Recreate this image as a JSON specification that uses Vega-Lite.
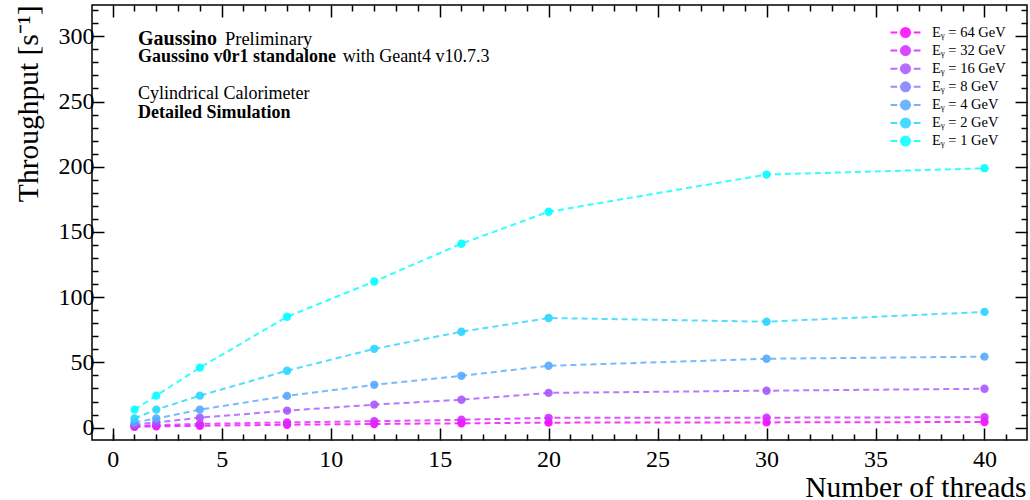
{
  "$schema": "https://vega.github.io/schema/vega-lite/v6.json",
  "width": 935,
  "height": 435,
  "autosize": {"type": "none"},
  "padding": {"left": 92, "top": 5, "right": 3, "bottom": 60},
  "background": "white",
  "config": {
    "font": "Liberation Serif",
    "view": {"stroke": "black", "strokeWidth": 1.5},
    "axis": {"grid": false, "domain": false, "tickColor": "black", "tickWidth": 1.5, "labelColor": "black", "titleColor": "black"}
  },
  "data": {"values": [
    {"threads": 1, "rate": 0.6, "E": "Eᵧ = 64 GeV"},
    {"threads": 2, "rate": 1.0, "E": "Eᵧ = 64 GeV"},
    {"threads": 4, "rate": 1.4, "E": "Eᵧ = 64 GeV"},
    {"threads": 8, "rate": 2.2, "E": "Eᵧ = 64 GeV"},
    {"threads": 12, "rate": 2.8, "E": "Eᵧ = 64 GeV"},
    {"threads": 16, "rate": 3.3, "E": "Eᵧ = 64 GeV"},
    {"threads": 20, "rate": 3.8, "E": "Eᵧ = 64 GeV"},
    {"threads": 30, "rate": 4.0, "E": "Eᵧ = 64 GeV"},
    {"threads": 40, "rate": 4.3, "E": "Eᵧ = 64 GeV"},
    {"threads": 1, "rate": 1.2, "E": "Eᵧ = 32 GeV"},
    {"threads": 2, "rate": 1.9, "E": "Eᵧ = 32 GeV"},
    {"threads": 4, "rate": 2.8, "E": "Eᵧ = 32 GeV"},
    {"threads": 8, "rate": 4.0, "E": "Eᵧ = 32 GeV"},
    {"threads": 12, "rate": 4.9, "E": "Eᵧ = 32 GeV"},
    {"threads": 16, "rate": 6.0, "E": "Eᵧ = 32 GeV"},
    {"threads": 20, "rate": 7.5, "E": "Eᵧ = 32 GeV"},
    {"threads": 30, "rate": 7.6, "E": "Eᵧ = 32 GeV"},
    {"threads": 40, "rate": 8.0, "E": "Eᵧ = 32 GeV"},
    {"threads": 1, "rate": 2.3, "E": "Eᵧ = 16 GeV"},
    {"threads": 2, "rate": 4.0, "E": "Eᵧ = 16 GeV"},
    {"threads": 4, "rate": 7.6, "E": "Eᵧ = 16 GeV"},
    {"threads": 8, "rate": 13.0, "E": "Eᵧ = 16 GeV"},
    {"threads": 12, "rate": 17.6, "E": "Eᵧ = 16 GeV"},
    {"threads": 16, "rate": 21.4, "E": "Eᵧ = 16 GeV"},
    {"threads": 20, "rate": 26.6, "E": "Eᵧ = 16 GeV"},
    {"threads": 30, "rate": 28.3, "E": "Eᵧ = 16 GeV"},
    {"threads": 40, "rate": 29.8, "E": "Eᵧ = 16 GeV"},
    {"threads": 1, "rate": 4.0, "E": "Eᵧ = 4 GeV"},
    {"threads": 2, "rate": 7.0, "E": "Eᵧ = 4 GeV"},
    {"threads": 4, "rate": 13.8, "E": "Eᵧ = 4 GeV"},
    {"threads": 8, "rate": 24.3, "E": "Eᵧ = 4 GeV"},
    {"threads": 12, "rate": 32.8, "E": "Eᵧ = 4 GeV"},
    {"threads": 16, "rate": 39.7, "E": "Eᵧ = 4 GeV"},
    {"threads": 20, "rate": 47.4, "E": "Eᵧ = 4 GeV"},
    {"threads": 30, "rate": 52.8, "E": "Eᵧ = 4 GeV"},
    {"threads": 40, "rate": 54.4, "E": "Eᵧ = 4 GeV"},
    {"threads": 1, "rate": 7.0, "E": "Eᵧ = 2 GeV"},
    {"threads": 2, "rate": 13.8, "E": "Eᵧ = 2 GeV"},
    {"threads": 4, "rate": 24.5, "E": "Eᵧ = 2 GeV"},
    {"threads": 8, "rate": 43.6, "E": "Eᵧ = 2 GeV"},
    {"threads": 12, "rate": 60.4, "E": "Eᵧ = 2 GeV"},
    {"threads": 16, "rate": 73.5, "E": "Eᵧ = 2 GeV"},
    {"threads": 20, "rate": 84.0, "E": "Eᵧ = 2 GeV"},
    {"threads": 30, "rate": 81.2, "E": "Eᵧ = 2 GeV"},
    {"threads": 40, "rate": 88.7, "E": "Eᵧ = 2 GeV"},
    {"threads": 1, "rate": 13.8, "E": "Eᵧ = 1 GeV"},
    {"threads": 2, "rate": 24.5, "E": "Eᵧ = 1 GeV"},
    {"threads": 4, "rate": 46.0, "E": "Eᵧ = 1 GeV"},
    {"threads": 8, "rate": 85.0, "E": "Eᵧ = 1 GeV"},
    {"threads": 12, "rate": 112.0, "E": "Eᵧ = 1 GeV"},
    {"threads": 16, "rate": 141.0, "E": "Eᵧ = 1 GeV"},
    {"threads": 20, "rate": 165.5, "E": "Eᵧ = 1 GeV"},
    {"threads": 30, "rate": 194.0, "E": "Eᵧ = 1 GeV"},
    {"threads": 40, "rate": 198.8, "E": "Eᵧ = 1 GeV"}
  ]},
  "resolve": {"axis": {"x": "independent", "y": "independent"}},
  "layer": [
    {
      "mark": {"type": "line", "strokeWidth": 2, "strokeDash": [6, 4], "opacity": 0.8},
      "encoding": {
        "x": {"field": "threads", "type": "quantitative",
          "scale": {"domain": [-0.95, 41.95], "nice": false, "zero": false},
          "axis": {"orient": "bottom", "values": [0, 5, 10, 15, 20, 25, 30, 35, 40], "tickSize": -12, "labelFontSize": 24, "labelPadding": 19,
            "title": "Number of threads", "titleFontSize": 29.5, "titleFontWeight": "normal", "titleAnchor": "end", "titleX": 934, "titleY": 47, "titleAlign": "right", "titleBaseline": "middle"}},
        "y": {"field": "rate", "type": "quantitative",
          "scale": {"domain": [-9.5, 324], "nice": false, "zero": false},
          "axis": {"orient": "left", "values": [0, 50, 100, 150, 200, 250, 300], "tickSize": -12, "labelFontSize": 24, "labelPadding": 10,
            "title": "Throughput [s⁻¹]", "titleFontSize": 29.5, "titleFontWeight": "normal", "titleAngle": 270, "titleX": -64, "titleY": 0, "titleAlign": "right", "titleBaseline": "middle"}},
        "color": {"field": "E", "type": "nominal",
          "scale": {"domain": ["Eᵧ = 64 GeV", "Eᵧ = 32 GeV", "Eᵧ = 16 GeV", "Eᵧ = 8 GeV", "Eᵧ = 4 GeV", "Eᵧ = 2 GeV", "Eᵧ = 1 GeV"],
            "range": ["#ff00ff", "#d52aff", "#aa55ff", "#8080ff", "#55aaff", "#2ad5ff", "#00ffff"]},
          "legend": {"orient": "none", "legendX": 805, "legendY": 19, "title": null, "padding": 0,
            "labelFontSize": 14.5, "labelFont": "Liberation Serif", "labelOffset": 18, "rowPadding": 1.1,
            "symbolType": "M-2,0H-1.1M-0.75,0H0.75M1.1,0H2M-0.6,0A0.6,0.6 0 1,0 0.6,0A0.6,0.6 0 1,0 -0.6,0Z",
            "symbolSize": 225, "symbolStrokeWidth": 2, "symbolOpacity": 0.85,
            "encode": {"symbols": {"update": {"fill": {"scale": "color", "field": "value"}, "stroke": {"scale": "color", "field": "value"}, "strokeWidth": {"value": 2}}}}}}
      }
    },
    {
      "mark": {"type": "point", "filled": true, "size": 70, "opacity": 0.9},
      "encoding": {
        "x": {"field": "threads", "type": "quantitative",
          "axis": {"orient": "bottom", "values": [0,1,2,3,4,6,7,8,9,11,12,13,14,16,17,18,19,21,22,23,24,26,27,28,29,31,32,33,34,36,37,38,39,41], "tickSize": -6, "labels": false, "title": null}},
        "y": {"field": "rate", "type": "quantitative",
          "axis": {"orient": "left", "values": [10,20,30,40,60,70,80,90,110,120,130,140,160,170,180,190,210,220,230,240,260,270,280,290,310,320], "tickSize": -6, "labels": false, "title": null}},
        "color": {"field": "E", "type": "nominal", "legend": null}
      }
    },
    {
      "mark": {"type": "point", "opacity": 0},
      "encoding": {
        "x": {"field": "threads", "type": "quantitative",
          "axis": {"orient": "top", "values": [0, 5, 10, 15, 20, 25, 30, 35, 40], "tickSize": -12, "labels": false, "title": null}},
        "y": {"field": "rate", "type": "quantitative",
          "axis": {"orient": "right", "values": [0, 50, 100, 150, 200, 250, 300], "tickSize": -12, "labels": false, "title": null}}
      }
    },
    {
      "mark": {"type": "point", "opacity": 0},
      "encoding": {
        "x": {"field": "threads", "type": "quantitative",
          "axis": {"orient": "top", "values": [1,2,3,4,6,7,8,9,11,12,13,14,16,17,18,19,21,22,23,24,26,27,28,29,31,32,33,34,36,37,38,39,41], "tickSize": -6, "labels": false, "title": null}},
        "y": {"field": "rate", "type": "quantitative",
          "axis": {"orient": "right", "values": [10,20,30,40,60,70,80,90,110,120,130,140,160,170,180,190,210,220,230,240,260,270,280,290,310,320], "tickSize": -6, "labels": false, "title": null}}
      }
    },
    {
      "data": {"values": [{"tx": 1.16, "ty": 293.3, "t": "Gaussino"}]},
      "mark": {"type": "text", "align": "left", "baseline": "alphabetic", "fontSize": 20, "fontWeight": "bold", "color": "black"},
      "encoding": {"x": {"field": "tx", "type": "quantitative", "axis": null}, "y": {"field": "ty", "type": "quantitative", "axis": null}, "text": {"field": "t"}}
    },
    {
      "data": {"values": [{"tx": 5.15, "ty": 293.3, "t": "Preliminary"}]},
      "mark": {"type": "text", "align": "left", "baseline": "alphabetic", "fontSize": 18.5, "color": "black"},
      "encoding": {"x": {"field": "tx", "type": "quantitative", "axis": null}, "y": {"field": "ty", "type": "quantitative", "axis": null}, "text": {"field": "t"}}
    },
    {
      "data": {"values": [{"tx": 1.16, "ty": 280.5, "t": "Gaussino v0r1 standalone"}]},
      "mark": {"type": "text", "align": "left", "baseline": "alphabetic", "fontSize": 18, "fontWeight": "bold", "color": "black"},
      "encoding": {"x": {"field": "tx", "type": "quantitative", "axis": null}, "y": {"field": "ty", "type": "quantitative", "axis": null}, "text": {"field": "t"}}
    },
    {
      "data": {"values": [{"tx": 10.55, "ty": 280.5, "t": "with Geant4 v10.7.3"}]},
      "mark": {"type": "text", "align": "left", "baseline": "alphabetic", "fontSize": 18, "color": "black"},
      "encoding": {"x": {"field": "tx", "type": "quantitative", "axis": null}, "y": {"field": "ty", "type": "quantitative", "axis": null}, "text": {"field": "t"}}
    },
    {
      "data": {"values": [{"tx": 1.16, "ty": 251.9, "t": "Cylindrical Calorimeter"}]},
      "mark": {"type": "text", "align": "left", "baseline": "alphabetic", "fontSize": 18, "color": "black"},
      "encoding": {"x": {"field": "tx", "type": "quantitative", "axis": null}, "y": {"field": "ty", "type": "quantitative", "axis": null}, "text": {"field": "t"}}
    },
    {
      "data": {"values": [{"tx": 1.16, "ty": 237.4, "t": "Detailed Simulation"}]},
      "mark": {"type": "text", "align": "left", "baseline": "alphabetic", "fontSize": 18, "fontWeight": "bold", "color": "black"},
      "encoding": {"x": {"field": "tx", "type": "quantitative", "axis": null}, "y": {"field": "ty", "type": "quantitative", "axis": null}, "text": {"field": "t"}}
    }
  ]
}
